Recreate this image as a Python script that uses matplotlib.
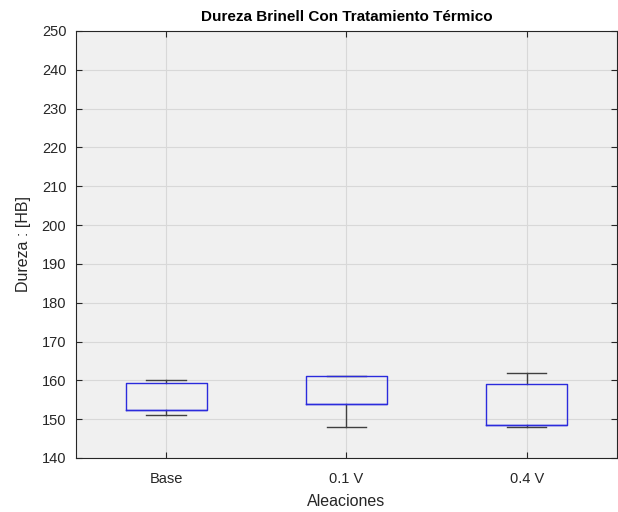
import matplotlib.pyplot as plt

plt.rcParams['font.family'] = ['Liberation Sans', 'DejaVu Sans']

categories = ["Base", "0.1 V", "0.4 V"]
whisker_low = [151, 148, 148]
q1 = [152.3, 154, 148.6]
median = [152.3, 154, 148.6]
q3 = [159.2, 161, 159]
whisker_high = [160, 161, 162]

stats = []
for i, name in enumerate(categories):
    stats.append({
        "label": name,
        "whislo": whisker_low[i],
        "q1": q1[i],
        "med": median[i],
        "q3": q3[i],
        "whishi": whisker_high[i],
        "fliers": [],
    })

fig = plt.figure(figsize=(6.18, 5.12), dpi=100)
ax = fig.add_axes([0.123, 0.1055, 0.875, 0.834])
ax.set_facecolor("#f0f0f0")

ax.bxp(stats, positions=[1, 2, 3], widths=0.45, showfliers=False,
       boxprops=dict(color="#2b2bdc", linewidth=1.0, zorder=4),
       medianprops=dict(color="#2b2bdc", linewidth=1.0, zorder=4),
       whiskerprops=dict(color="#404040", linewidth=1.0, zorder=3),
       capprops=dict(color="#404040", linewidth=1.0, zorder=3),
       capwidths=0.22)

ax.set_xlim(0.5, 3.5)
ax.set_ylim(140, 250)
ax.set_yticks(range(140, 251, 10))
ax.set_xticks([1, 2, 3])
ax.set_xticklabels(categories)
ax.grid(True, color="#d8d8d8", linewidth=0.8)
ax.set_axisbelow(True)
ax.tick_params(labelsize=10.5, colors="#262626", direction="in", length=4,
               top=True, right=True)
ax.tick_params(axis="y", pad=7)
ax.tick_params(axis="x", pad=10)
for s in ax.spines.values():
    s.set_color("#262626")
    s.set_linewidth(0.8)

ax.set_title("Dureza Brinell Con Tratamiento Térmico", fontsize=11, fontweight="bold", pad=7)
ax.set_xlabel("Aleaciones", fontsize=11.5, color="#262626", labelpad=6)
ax.set_ylabel("Dureza : [HB]", fontsize=11.5, color="#262626", labelpad=8)

fig.savefig("out.png", dpi=100)
